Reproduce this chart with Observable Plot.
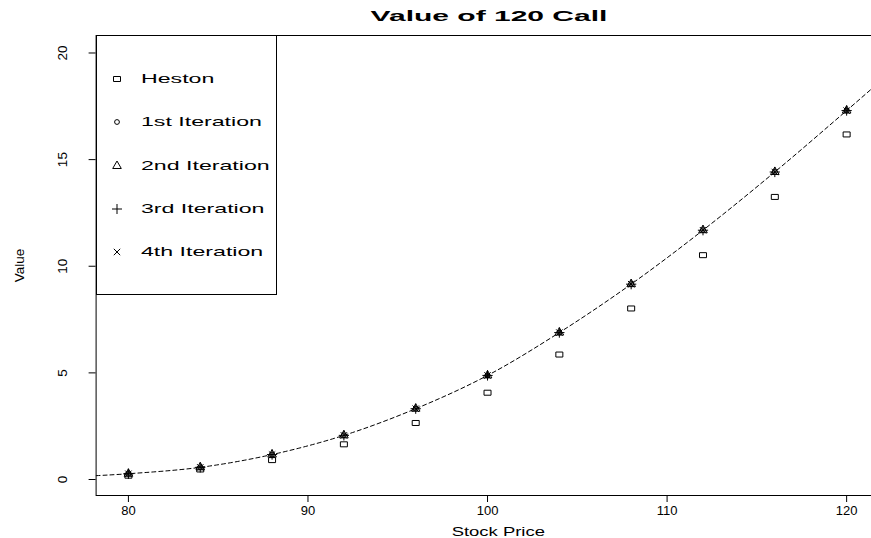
<!DOCTYPE html>
<html>
<head>
<meta charset="utf-8">
<script src="https://cdn.jsdelivr.net/npm/d3@7"></script>
<script src="https://cdn.jsdelivr.net/npm/@observablehq/plot@0.6"></script>
<style>
  html, body { margin: 0; padding: 0; background: #fff; overflow: hidden; }
  #wrap { position: relative; width: 871px; height: 538px; overflow: hidden;
          font-family: "Liberation Sans", Arial, sans-serif; color: #000; }
  #chart { position: absolute; left: 0; top: 0; width: 900px; height: 538px; }
  #chart svg { max-width: none !important; width: 900px; height: 538px; }
  #title { position: absolute; left: 489px; top: 7px; font-weight: bold; font-size: 15px;
           white-space: nowrap; transform: translateX(-50%) scaleX(2.0); }
  #legend { position: absolute; left: 95.6px; top: 35px; width: 181px; height: 260px;
            border: 1px solid #000; box-sizing: border-box; background: #fff; }
  .row { position: absolute; left: 0; height: 16px; width: 100%; }
  .row svg { position: absolute; left: 15px; top: 3px; }
  .row span { position: absolute; left: 44px; top: 0; font-size: 13px; line-height: 16px;
              white-space: nowrap; transform-origin: 0 50%; transform: scaleX(1.78); }
</style>
</head>
<body>
<div id="wrap">
  <div id="chart"></div>
  <div id="title"></div>
  <div id="legend"></div>
</div>
<script>
// ---- data ----
const titleText = "Value of 120 Call";
const xLabel = "Stock Price";
const yLabel = "Value";
const xTicks = [80, 90, 100, 110, 120];
const yTicks = [0, 5, 10, 15, 20];

const stockPrice = [80, 84, 88, 92, 96, 100, 104, 108, 112, 116, 120];
const hestonValue = [0.18, 0.47, 0.91, 1.65, 2.65, 4.07, 5.86, 8.02, 10.52, 13.25, 16.18];
const iteration1 = [0.27, 0.57, 1.17, 2.07, 3.32, 4.88, 6.89, 9.16, 11.69, 14.42, 17.30];
const iteration2 = [0.27, 0.57, 1.17, 2.07, 3.32, 4.88, 6.89, 9.16, 11.69, 14.42, 17.30];
const iteration3 = [0.27, 0.57, 1.17, 2.07, 3.32, 4.88, 6.89, 9.16, 11.69, 14.42, 17.30];
const iteration4 = [0.27, 0.57, 1.17, 2.07, 3.32, 4.88, 6.89, 9.16, 11.69, 14.42, 17.30];

// dashed reference curve (including the ends at the frame)
const curveStock = [78.2, 80, 84, 88, 92, 96, 100, 104, 108, 112, 116, 120, 123.0];
const curveValue = [0.18, 0.27, 0.57, 1.17, 2.07, 3.32, 4.88, 6.89, 9.16, 11.69, 14.42, 17.30, 19.5];

const legendLabels = ["Heston", "1st Iteration", "2nd Iteration", "3rd Iteration", "4th Iteration"];

// ---- build tables ----
const curveData = curveStock.map((s, i) => ({s, v: curveValue[i]}));
const hestonData = stockPrice.map((s, i) => ({s, v: hestonValue[i]}));
const iterSeries = [
  {values: iteration1, symbol: "circle", r: 2.4},
  {values: iteration2, symbol: "triangle", r: 3.2},
  {values: iteration3, symbol: "plus", r: 3.4},
  {values: iteration4, symbol: "times", r: 3.0}
];

const rectSymbol = {
  draw(ctx, size) {
    ctx.moveTo(-3.5, -2.5); ctx.lineTo(3.5, -2.5); ctx.lineTo(3.5, 2.5); ctx.lineTo(-3.5, 2.5); ctx.closePath();
  }
};

const marks = [
  Plot.line(curveData, {x: "s", y: "v", curve: "catmull-rom", stroke: "black", strokeWidth: 1,
                        strokeDasharray: "4,3", clip: true}),
  Plot.dot(hestonData, {x: "s", y: "v", symbol: rectSymbol, stroke: "black", strokeWidth: 1, fill: "none", r: 3})
];
for (const ser of iterSeries) {
  marks.push(Plot.dot(stockPrice.map((s, i) => ({s, v: ser.values[i]})),
    {x: "s", y: "v", symbol: ser.symbol, r: ser.r, stroke: "black", strokeWidth: 1, fill: "none"}));
}
marks.push(Plot.frame({stroke: "black", strokeWidth: 1}));
marks.push(Plot.axisX(xTicks, {tickSize: 7, tickPadding: 3, fontSize: 13, label: xLabel,
                              labelAnchor: "center", labelArrow: "none", labelOffset: 40}));
marks.push(Plot.axisY(yTicks, {tickSize: 7, tickPadding: 22, tickRotate: -90, fontSize: 13.5, label: yLabel,
                              labelAnchor: "center", labelArrow: "none", labelOffset: 82}));

const chart = Plot.plot({
  width: 900,
  height: 538,
  marginLeft: 95.6,
  marginRight: 0,
  marginTop: 35,
  marginBottom: 43,
  x: {domain: [78.2, 123.0]},
  y: {domain: [-0.75, 20.82]},
  style: {fontFamily: "'Liberation Sans', Arial, sans-serif", fontSize: "13px", background: "white", color: "black", maxWidth: "none"},
  marks
});
document.getElementById("chart").appendChild(chart);

// stretch the x-axis label horizontally like the reference
chart.querySelectorAll('g[aria-label="x-axis label"] text').forEach(t => {
  const tr = t.getAttribute("transform") || "";
  t.setAttribute("transform", tr + " scale(1.42,1)");
});

document.getElementById("title").textContent = titleText;

// legend
const legend = document.getElementById("legend");
const rowTops = [34.5, 78, 121.5, 165, 208];
const legendSymbols = [rectSymbol, "circle", "triangle", "plus", "times"];
const legendR = [3, 2.4, 3.2, 3.4, 3.0];
legendLabels.forEach((lab, i) => {
  const row = document.createElement("div");
  row.className = "row";
  row.style.top = rowTops[i] + "px";
  const sym = legendSymbols[i];
  const type = typeof sym === "string" ? {circle: d3.symbolCircle, triangle: d3.symbolTriangle, plus: d3.symbolPlus, times: d3.symbolTimes}[sym] : sym;
  const svg = d3.create("svg").attr("width", 10).attr("height", 10);
  svg.append("path").attr("transform", "translate(5,5)")
    .attr("d", d3.symbol(type, legendR[i] * legendR[i] * Math.PI)())
    .attr("fill", "none").attr("stroke", "black").attr("stroke-width", 1);
  row.appendChild(svg.node());
  const span = document.createElement("span");
  span.textContent = lab;
  row.appendChild(span);
  legend.appendChild(row);
});
</script>
</body>
</html>
